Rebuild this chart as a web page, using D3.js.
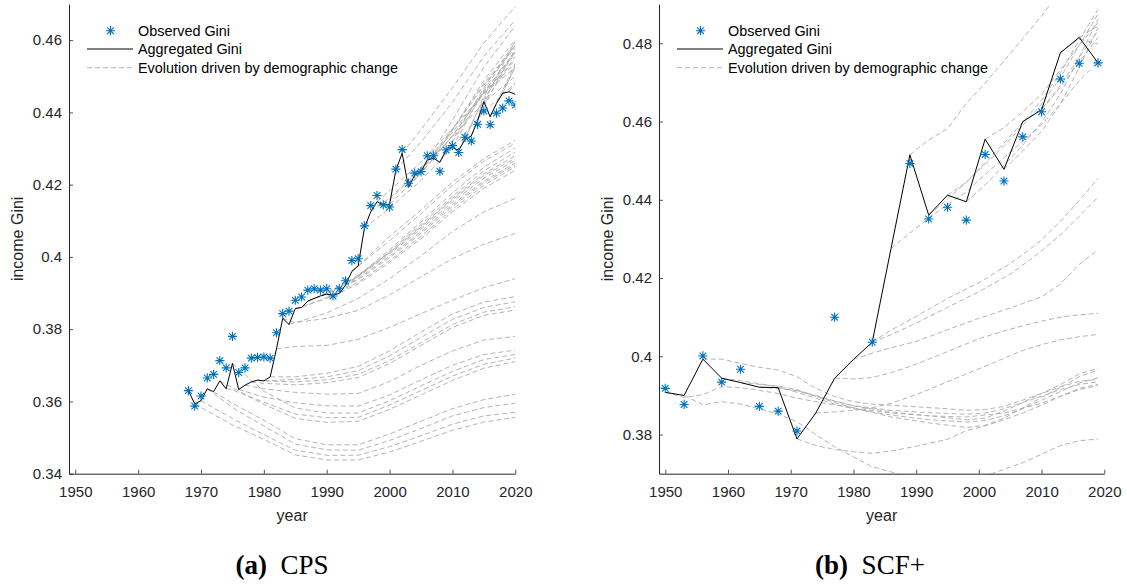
<!DOCTYPE html>
<html>
<head>
<meta charset="utf-8">
<script src="https://cdn.jsdelivr.net/npm/d3@7"></script>
<style>
  body { margin: 0; background: #fff; }
  text { font-family: "Liberation Sans", Arial, sans-serif; fill: #262626; }
  .caption text, text.caption { font-family: "Liberation Serif", "Times New Roman", serif; fill: #000; }
</style>
</head>
<body>
<svg id="chart"></svg>
<script>
const obsColor = "#0072bd"
const dashColor = "#ababab"

// 1. DATA *******************************
const xTicks = [1950, 1960, 1970, 1980, 1990, 2000, 2010, 2020]
const cpsYTicks = [0.34, 0.36, 0.38, 0.40, 0.42, 0.44, 0.46]
const scfYTicks = [0.38, 0.40, 0.42, 0.44, 0.46, 0.48]
const legendLabels = ["Observed Gini", "Aggregated Gini", "Evolution driven by demographic change"]

// CPS (left panel), one value per year
const cpsYears = [1968, 1969, 1970, 1971, 1972, 1973, 1974, 1975, 1976, 1977,
  1978, 1979, 1980, 1981, 1982, 1983, 1984, 1985, 1986, 1987,
  1988, 1989, 1990, 1991, 1992, 1993, 1994, 1995, 1996, 1997,
  1998, 1999, 2000, 2001, 2002, 2003, 2004, 2005, 2006, 2007,
  2008, 2009, 2010, 2011, 2012, 2013, 2014, 2015, 2016, 2017,
  2018, 2019, 2020]
const cpsObserved = [.3630, .3587, .3615, .3665, .3675, .3713, .3693, .3780, .3680, .3693,
  .3720, .3722, .3723, .3720, .3790, .3843, .3850, .3880, .3889, .3908,
  .3912, .3908, .3912, .3892, .3912, .3934, .3990, .3995, .4086, .4142,
  .4170, .4144, .4138, .4243, .4297, .4204, .4232, .4236, .4280, .4280,
  .4237, .4296, .4308, .4289, .4331, .4321, .4367, .4404, .4366, .4398,
  .4412, .4432, .4420]
const cpsAggregated = [.3630, .3593, .3602, .3635, .3627, .3657, .3635, .3705, .3633, .3645,
  .3654, .3659, .3657, .3668, .3745, .3830, .3813, .3857, .3860, .3878,
  .3885, .3892, .3897, .3894, .3899, .3922, .3960, .3975, .4080, .4125,
  .4153, .4143, .4146, .4240, .4287, .4193, .4226, .4236, .4268, .4273,
  .4262, .4296, .4303, .4295, .4325, .4335, .4377, .4430, .4388, .4425,
  .4453, .4457, .4450]

const cpsPathStarts = [1969, 1970, 1971, 1972, 1973, 1974, 1975, 1976, 1977,
  1978, 1979, 1980, 1981, 1982, 1983, 1984,
  1985, 1986, 1987, 1988, 1989, 1990, 1991, 1992, 1993, 1994, 1995,
  1996, 1997, 1998, 1999, 2000, 2001, 2002, 2003, 2004, 2005, 2006, 2007,
  2008, 2009, 2010, 2011, 2012, 2013, 2014, 2015, 2016, 2017, 2018, 2019]
const cpsPathKnots = [
  [[1975, .3535], [1980, .3495], [1985, .3452], [1990, .3438], [1995, .3438], [2000, .3460], [2005, .3490], [2010, .3520], [2015, .3543], [2020, .3556]],
  [[1975, .3553], [1980, .3508], [1985, .3465], [1990, .3451], [1995, .3451], [2000, .3475], [2005, .3505], [2010, .3537], [2015, .3560], [2020, .3570]],
  [[1975, .3583], [1980, .3532], [1985, .3482], [1990, .3466], [1995, .3465], [2000, .3492], [2005, .3525], [2010, .3560], [2015, .3583], [2020, .3595]],
  [[1975, .3595], [1980, .3548], [1985, .3497], [1990, .3480], [1995, .3480], [2000, .3510], [2005, .3545], [2010, .3580], [2015, .3605], [2020, .3620]],
  [[1975, .3638], [1980, .3592], [1985, .3553], [1990, .3542], [1995, .3545], [2000, .3578], [2005, .3618], [2010, .3658], [2015, .3692], [2020, .3710]],
  [[1975, .3632], [1980, .3598], [1985, .3565], [1990, .3555], [1995, .3556], [2000, .3590], [2005, .3630], [2010, .3670], [2015, .3703], [2020, .3720]],
  [[1980, .3628], [1985, .3582], [1990, .3568], [1995, .3568], [2000, .3602], [2005, .3643], [2010, .3683], [2015, .3716], [2020, .3730]],
  [[1980, .3612], [1985, .3596], [1990, .3588], [1995, .3587], [2000, .3618], [2005, .3660], [2010, .3700], [2015, .3730], [2020, .3742]],
  [[1980, .3635], [1985, .3625], [1990, .3620], [1995, .3622], [2000, .3655], [2005, .3700], [2010, .3740], [2015, .3770], [2020, .3780]],
  [[1980, .3650], [1985, .3646], [1990, .3652], [1995, .3666], [2000, .3705], [2005, .3755], [2010, .3805], [2015, .3838], [2020, .3853]],
  [[1980, .3657], [1985, .3654], [1990, .3660], [1995, .3675], [2000, .3713], [2005, .3763], [2010, .3813], [2015, .3847], [2020, .3862]],
  [[1985, .3661], [1990, .3668], [1995, .3685], [2000, .3726], [2005, .3777], [2010, .3827], [2015, .3860], [2020, .3876]],
  [[1985, .3668], [1990, .3678], [1995, .3697], [2000, .3740], [2005, .3792], [2010, .3842], [2015, .3875], [2020, .3890]],
  [[1985, .3752], [1990, .3755], [1995, .3772], [2000, .3805], [2005, .3843], [2010, .3880], [2015, .3915], [2020, .3940]],
  [[1985, .3818], [1990, .3830], [1995, .3852], [2000, .3895], [2005, .3945], [2010, .3995], [2015, .4035], [2020, .4065]],
  [[1985, .3818], [1990, .3845], [1995, .3885], [2000, .3940], [2005, .4003], [2010, .4070], [2015, .4125], [2020, .4162]],
  [[1990, .3885], [1995, .3925], [2000, .3985], [2005, .4050], [2010, .4125], [2015, .4190], [2020, .4240]],
  [[1990, .3888], [1995, .3930], [2000, .3990], [2005, .4057], [2010, .4132], [2015, .4198], [2020, .4250]],
  [[1990, .3897], [1995, .3937], [2000, .3998], [2005, .4065], [2010, .4140], [2015, .4205], [2020, .4255]],
  [[1990, .3900], [1995, .3940], [2000, .4002], [2005, .4070], [2010, .4145], [2015, .4210], [2020, .4260]],
  [[1990, .3902], [1995, .3945], [2000, .4008], [2005, .4077], [2010, .4152], [2015, .4218], [2020, .4267]],
  [[1995, .3950], [2000, .4012], [2005, .4082], [2010, .4158], [2015, .4225], [2020, .4273]],
  [[1995, .3948], [2000, .4012], [2005, .4085], [2010, .4162], [2015, .4230], [2020, .4280]],
  [[1995, .3945], [2000, .4015], [2005, .4090], [2010, .4168], [2015, .4238], [2020, .4290]],
  [[1995, .3948], [2000, .4020], [2005, .4097], [2010, .4177], [2015, .4248], [2020, .4302]],
  [[2000, .4045], [2005, .4120], [2010, .4198], [2015, .4265], [2020, .4315]],
  [[2000, .4057], [2005, .4130], [2010, .4207], [2015, .4272], [2020, .4323]],
  [[2000, .4135], [2005, .4212], [2010, .4302], [2015, .4402], [2020, .4481]],
  [[2000, .4163], [2005, .4243], [2010, .4333], [2015, .4428], [2020, .4500]],
  [[2000, .4183], [2005, .4263], [2010, .4355], [2015, .4452], [2020, .4525]],
  [[2000, .4158], [2005, .4245], [2010, .4345], [2015, .4455], [2020, .4535]],
  [[2005, .4232], [2010, .4335], [2015, .4455], [2020, .4545]],
  [[2005, .4318], [2010, .4428], [2015, .4555], [2020, .4656]],
  [[2005, .4352], [2010, .4468], [2015, .4592], [2020, .4693]],
  [[2005, .4232], [2010, .4335], [2015, .4458], [2020, .4565]],
  [[2005, .4247], [2010, .4352], [2015, .4475], [2020, .4580]],
  [[2010, .4352], [2015, .4480], [2020, .4585]],
  [[2010, .4378], [2015, .4525], [2020, .4640]],
  [[2010, .4352], [2015, .4488], [2020, .4602]],
  [[2010, .4318], [2015, .4455], [2020, .4570]],
  [[2010, .4322], [2015, .4468], [2020, .4595]],
  [[2015, .4462], [2020, .4588]],
  [[2015, .4438], [2020, .4565]],
  [[2015, .4445], [2020, .4570]],
  [[2015, .4428], [2020, .4555]],
  [[2015, .4418], [2020, .4575]],
  [[2020, .4598]],
  [[2020, .4525]],
  [[2020, .4535]],
  [[2020, .4528]],
  [[2020, .4482]]
]

// SCF+ (right panel), survey every three years
const scfYears = [1950, 1953, 1956, 1959, 1962, 1965, 1968, 1971, 1977, 1983, 1989,
  1992, 1995, 1998, 2001, 2004, 2007, 2010, 2013, 2016, 2019]
const scfObserved = [.3918, .3877, .4001, .3934, .3967, .3872, .3860, .3809, .4100, .4036, .4493,
  .4351, .4381, .4348, .4516, .4448, .4561, .4625, .4709, .4749, .4750]
const scfAggYears = [1950, 1953, 1956, 1959, 1962, 1965, 1968, 1971, 1974, 1977, 1980, 1983,
  1986, 1989, 1992, 1995, 1998, 2001, 2004, 2007, 2010, 2013, 2016, 2019]
const scfAggregated = [.3908, .3900, .3993, .3944, .3933, .3921, .3920, .3789, .3855, .3944, .3992, .4036,
  .4276, .4515, .4361, .4412, .4395, .4555, .4478, .4600, .4630, .4776, .4815, .4750]

const scfPathStarts = [1950, 1953, 1956, 1959, 1962, 1965, 1968, 1971, 1974, 1977, 1980, 1983, 1983,
  1986, 1989, 1992, 1995, 1998, 2001, 2004, 2007, 2010, 2013, 2016]
const scfPathKnots = [
  [[1953, .3895], [1956, .3902], [1959, .3922], [1962, .3920], [1965, .3913], [1968, .3905], [1971, .3893], [1974, .3884], [1977, .3876], [1980, .3868], [1986, .3855], [1992, .3848], [1998, .3845], [2004, .3855], [2010, .3880], [2016, .3915], [2019, .3925]],
  [[1956, .3876], [1959, .3884], [1962, .3878], [1965, .3866], [1968, .3852], [1971, .3833], [1974, .3800], [1977, .3769], [1980, .3743], [1983, .3718], [1987, .3700], [1992, .3682], [1997, .3675], [2002, .3700], [2007, .3728], [2010, .3750], [2013, .3772], [2016, .3784], [2019, .3789]],
  [[1959, .3993], [1962, .3982], [1965, .3972], [1968, .3965], [1971, .3948], [1974, .3918], [1977, .3897], [1980, .3884], [1983, .3878], [1989, .3872], [1995, .3866], [1998, .3862], [2001, .3864], [2004, .3872], [2007, .3888], [2010, .3905], [2013, .3922], [2016, .3936], [2019, .3941]],
  [[1962, .3938], [1965, .3930], [1968, .3922], [1971, .3908], [1974, .3893], [1977, .3878], [1980, .3866], [1986, .3850], [1992, .3838], [1998, .3832], [2001, .3836], [2004, .3848], [2007, .3866], [2010, .3888], [2013, .3910], [2016, .3932], [2019, .3945]],
  [[1965, .3928], [1968, .3924], [1971, .3915], [1974, .3898], [1977, .3882], [1980, .3868], [1986, .3845], [1992, .3830], [1998, .3818], [2001, .3824], [2004, .3842], [2007, .3868], [2010, .3895], [2013, .3920], [2016, .3948], [2019, .3965]],
  [[1968, .3918], [1971, .3912], [1974, .3900], [1977, .3886], [1980, .3873], [1986, .3858], [1992, .3848], [1998, .3838], [2001, .3842], [2004, .3860], [2007, .3882], [2010, .3905], [2013, .3928], [2016, .3955], [2019, .3969]],
  [[1971, .3912], [1974, .3898], [1977, .3885], [1980, .3874], [1986, .3862], [1992, .3856], [1998, .3852], [2001, .3855], [2004, .3866], [2007, .3882], [2010, .3898], [2013, .3915], [2016, .3928], [2019, .3935]],
  [[1974, .3772], [1977, .3762], [1980, .3756], [1983, .3752], [1986, .3758], [1990, .3770], [1995, .3788], [1998, .3810], [2001, .3822], [2004, .3838], [2007, .3855], [2010, .3875], [2013, .3898], [2016, .3918], [2019, .3929]],
  [[1977, .3858], [1980, .3862], [1983, .3868], [1986, .3880], [1990, .3902], [1995, .3935], [2000, .3968], [2004, .3995], [2007, .4015], [2010, .4030], [2013, .4042], [2016, .4050], [2019, .4056]],
  [[1980, .3942], [1983, .3946], [1986, .3958], [1990, .3980], [1995, .4012], [2000, .4045], [2004, .4065], [2007, .4078], [2010, .4090], [2013, .4100], [2016, .4106], [2019, .4110]],
  [[1983, .4008], [1986, .4022], [1990, .4038], [1995, .4068], [2000, .4097], [2004, .4118], [2007, .4135], [2010, .4152], [2013, .4185], [2016, .4235], [2019, .4272]],
  [[1986, .4067], [1990, .4102], [1995, .4148], [2000, .4188], [2005, .4237], [2008, .4272], [2010, .4298], [2013, .4345], [2016, .4398], [2019, .4455]],
  [[1986, .4055], [1990, .4085], [1995, .4125], [2000, .4165], [2005, .4210], [2008, .4245], [2010, .4270], [2013, .4310], [2016, .4358], [2019, .4407]],
  [[1989, .4315], [1992, .4353], [1995, .4388], [1998, .4420], [2001, .4465], [2004, .4507], [2007, .4550], [2010, .4592], [2013, .4645], [2016, .4705], [2019, .4753]],
  [[1992, .4553], [1995, .4582], [1998, .4647], [2001, .4698], [2004, .4755], [2007, .4812], [2010, .4870], [2013, .4935]],
  [[1995, .4402], [1998, .4445], [2001, .4495], [2004, .4545], [2007, .4598], [2010, .4655], [2013, .4725], [2016, .4808], [2019, .4887]],
  [[1998, .4445], [2001, .4490], [2004, .4538], [2007, .4590], [2010, .4645], [2013, .4712], [2016, .4795], [2019, .4875]],
  [[2001, .4438], [2004, .4488], [2007, .4540], [2010, .4598], [2013, .4670], [2016, .4765], [2019, .4862]],
  [[2004, .4585], [2007, .4625], [2010, .4670], [2013, .4732], [2016, .4795], [2019, .4853]],
  [[2007, .4525], [2010, .4575], [2013, .4645], [2016, .4738], [2019, .4840]],
  [[2010, .4632], [2013, .4692], [2016, .4765], [2019, .4832]],
  [[2013, .4688], [2016, .4752], [2019, .4815]],
  [[2016, .4812], [2019, .4798]],
  [[2019, .4845]]
]

// 2. CANVAS *******************************
const width = 1127
const height = 586
const svg = d3.select("#chart")
  .attr("width", width)
  .attr("height", height)
  .style("display", "block")

svg.append("rect")
  .attr("width", width)
  .attr("height", height)
  .attr("fill", "#fff")

const defs = svg.append("defs")

// MATLAB style "*" marker: plus + cross
function starPath(r) {
  const k = r * 0.72
  return `M${-r},0H${r}M0,${-r}V${r}M${-k},${-k}L${k},${k}M${-k},${k}L${k},${-k}`
}

// 3. PANELS *******************************
function drawPanel(p) {
  const x = d3.scaleLinear().domain([1949, 2020]).range([p.left, p.right])
  const y = d3.scaleLinear().domain(p.yDomain).range([473.7, p.top])

  const g = svg.append("g").classed("panel", true)

  defs.append("clipPath")
    .attr("id", p.id)
    .append("rect")
    .attr("x", p.left)
    .attr("y", p.top)
    .attr("width", p.right - p.left)
    .attr("height", 473.7 - p.top)

  const plot = g.append("g").attr("clip-path", `url(#${p.id})`)

  const line = d3.line()
    .x(d => x(d[0]))
    .y(d => y(d[1]))

  // dashed demographic paths
  const paths = p.pathStarts.map((s, i) => {
    const v = p.aggregated[p.aggYears.indexOf(s)]
    return [[s, v], ...p.pathKnots[i]]
  })
  plot.selectAll(".demo")
    .data(paths)
    .enter().append("path")
    .classed("demo", true)
    .attr("d", line)
    .attr("fill", "none")
    .attr("stroke", dashColor)
    .attr("stroke-width", 0.9)
    .attr("stroke-dasharray", "5,3")

  // aggregated gini
  plot.append("path")
    .datum(p.aggYears.map((yr, i) => [yr, p.aggregated[i]]))
    .attr("d", line)
    .attr("fill", "none")
    .attr("stroke", "#000")
    .attr("stroke-width", 1)

  // observed stars
  plot.selectAll(".obs")
    .data(p.years.map((yr, i) => [yr, p.observed[i]]))
    .enter().append("path")
    .classed("obs", true)
    .attr("transform", d => `translate(${x(d[0])},${y(d[1])})`)
    .attr("d", starPath(4.6))
    .attr("fill", "none")
    .attr("stroke", obsColor)
    .attr("stroke-width", 1.1)

  // axes
  const xAxis = g.append("g")
    .attr("transform", "translate(0,473.7)")
    .call(d3.axisBottom(x)
      .tickValues(xTicks)
      .tickFormat(d3.format("d"))
      .tickSizeInner(-4)
      .tickSizeOuter(0)
      .tickPadding(13))
  const yAxis = g.append("g")
    .attr("transform", `translate(${p.left},0)`)
    .call(d3.axisLeft(y)
      .tickValues(p.yTicks)
      .tickFormat(d3.format(".2~f"))
      .tickSizeInner(-4)
      .tickSizeOuter(0)
      .tickPadding(7))
  ;[xAxis, yAxis].forEach(a => {
    a.selectAll(".domain").attr("stroke", "#262626").attr("stroke-width", 1)
    a.selectAll(".tick line").attr("stroke", "#262626").attr("stroke-width", 0.8)
    a.selectAll(".tick text")
      .attr("fill", "#262626")
      .style("font-size", "15px")
      .style("font-family", "'Liberation Sans', Arial, sans-serif")
  })

  g.append("text")
    .attr("x", (p.left + p.right) / 2)
    .attr("y", 521)
    .attr("text-anchor", "middle")
    .style("font-size", "16px")
    .text("year")

  g.append("text")
    .attr("transform", `translate(${p.left - 46},${(473.7 + p.top) / 2}) rotate(-90)`)
    .attr("text-anchor", "middle")
    .style("font-size", "16px")
    .text("income Gini")

  // legend (no box)
  const lg = g.append("g").attr("transform", `translate(${p.left + 18},0)`)
  lg.append("path")
    .attr("transform", "translate(23.5,30.7)")
    .attr("d", starPath(4.6))
    .attr("fill", "none")
    .attr("stroke", obsColor)
    .attr("stroke-width", 1.1)
  lg.append("line")
    .attr("x1", 0).attr("x2", 46)
    .attr("y1", 49).attr("y2", 49)
    .attr("stroke", "#000")
    .attr("stroke-width", 1)
  lg.append("line")
    .attr("x1", 0).attr("x2", 46)
    .attr("y1", 67.7).attr("y2", 67.7)
    .attr("stroke", dashColor)
    .attr("stroke-width", 0.9)
    .attr("stroke-dasharray", "5,3")
  lg.selectAll(".lgtext")
    .data(legendLabels)
    .enter().append("text")
    .classed("lgtext", true)
    .attr("x", 51)
    .attr("y", (d, i) => 35.8 + i * 18.6)
    .style("font-size", "14.4px")
    .style("fill", "#000")
    .text(d => d)

  // caption under the panel
  const cap = svg.append("text")
    .attr("class", "caption")
    .attr("x", p.captionX)
    .attr("y", 574)
    .attr("text-anchor", "middle")
    .style("font-size", "27px")
  cap.append("tspan").style("font-weight", "bold").text(p.captionTag)
  cap.append("tspan").text("\u2002" + p.captionName)
}

drawPanel({
  id: "clipCps",
  left: 69, right: 515.3, top: 4,
  yDomain: [0.34, 0.47],
  yTicks: cpsYTicks,
  years: cpsYears, observed: cpsObserved,
  aggYears: cpsYears, aggregated: cpsAggregated,
  pathStarts: cpsPathStarts, pathKnots: cpsPathKnots,
  captionX: 282, captionTag: "(a)", captionName: "CPS"
})

drawPanel({
  id: "clipScf",
  left: 659, right: 1104.3, top: 4.2,
  yDomain: [0.37, 0.49],
  yTicks: scfYTicks,
  years: scfYears, observed: scfObserved,
  aggYears: scfAggYears, aggregated: scfAggregated,
  pathStarts: scfPathStarts, pathKnots: scfPathKnots,
  captionX: 870, captionTag: "(b)", captionName: "SCF+"
})
</script>
</body>
</html>
